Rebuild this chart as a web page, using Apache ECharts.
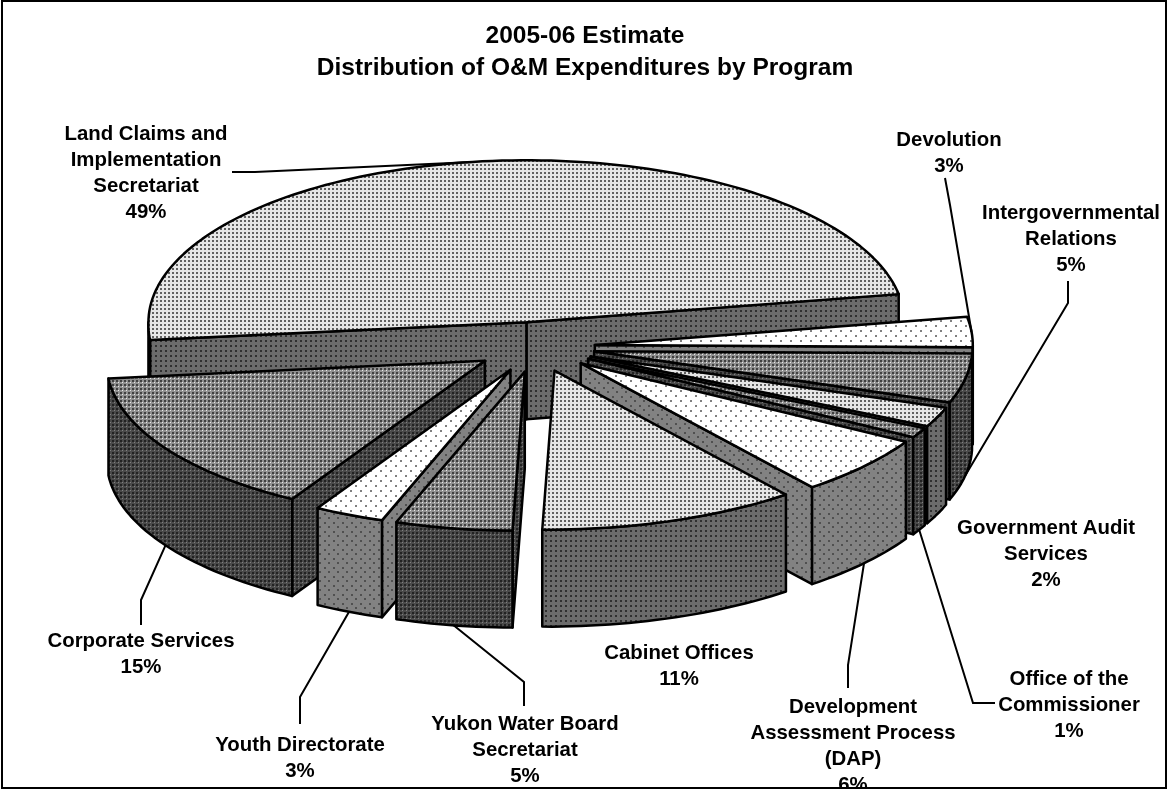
<!DOCTYPE html>
<html>
<head>
<meta charset="utf-8">
<style>html,body{margin:0;padding:0;background:#fff}#chart{width:1168px;height:789px}</style>
<script src="https://cdn.jsdelivr.net/npm/echarts@6/dist/echarts.min.js"></script>
</head>
<body>
<div id="chart"></div>
<script>
// Program names and their share of O&M spending, counter-clockwise from the right edge.
const programs = ['Land Claims and\nImplementation\nSecretariat', 'Corporate Services', 'Youth Directorate',
  'Yukon Water Board\nSecretariat', 'Cabinet Offices', 'Development\nAssessment Process\n(DAP)',
  'Office of the\nCommissioner', 'Government Audit\nServices', 'Intergovernmental\nRelations', 'Devolution'];
const shares = [49, 15, 3, 5, 11, 6, 1, 2, 5, 3];
const titleLines = ['2005-06 Estimate', 'Distribution of O&M Expenditures by Program'];

// Fill family per slice and the back-to-front order the slices are painted in.
const sliceFill = ['A', 'C', 'D', 'C', 'A', 'D', 'C', 'A', 'C', 'D'];
const paintOrder = [0, 9, 8, 7, 6, 5, 1, 2, 3, 4];

// Projection of the tilted disc; frontLean and frontLift bend the near rim left and up a little.
const disc = { cx: 535, cy: 347, rx: 378, ry: 162, depth: 97, explodeX: 60, explodeY: 25, start: 10, frontLean: 7, frontLift: 3 };

// Label centres and the free ends of the leader lines, running away from each slice.
const labelCentres = [[146, 134], [141, 641], [300, 745], [525, 724], [679, 653], [853, 707], [1069, 679], [1046, 528], [1071, 213], [949, 140]];
const leaderElbows = [[[255, 172], [232, 172]], [[141, 600], [141, 625]], [[300, 697], [300, 724]], [[524, 682], [524, 706]], null,
  [[848, 665], [848, 688]], [[973, 703], [995, 703]], null, [[1068, 303], [1068, 281]], [[950, 205], [945, 178]]];

// Pattern tiles: period, base tone, dot tone, dot size, optional fleck, staggered rows.
const tiles = {
  Atop:  { size: 4, base: '#e6e6e6', dot: '#606060', dotSize: 2 },
  Awall: { size: 5, base: '#6c6c6c', dot: '#303030', dotSize: 2 },
  Ctop:  { size: 4, base: '#909090', dot: '#404040', dotSize: 2, fleck: '#e8e8e8' },
  Cwall: { size: 4, base: '#4a4a4a', dot: '#222222', dotSize: 2, fleck: '#808080' },
  Dtop:  { size: 10, base: '#ffffff', dot: '#808080', dotSize: 2, stagger: true },
  Dwall: { size: 9, base: '#828282', dot: '#505050', dotSize: 2, stagger: true }
};

function makeTile(t) {
  const c = document.createElement('canvas');
  c.width = t.size; c.height = t.size;
  const g = c.getContext('2d');
  g.fillStyle = t.base; g.fillRect(0, 0, t.size, t.size);
  const put = (x, y) => { g.fillStyle = t.dot; g.fillRect(x, y, t.dotSize, t.dotSize); };
  put(0, 0);
  if (t.stagger) put(t.size >> 1, t.size >> 1);
  if (t.fleck) { g.fillStyle = t.fleck; g.fillRect(2, 2, 1, 1); }
  return { image: c, repeat: 'repeat' };
}
const patterns = {};
Object.keys(tiles).forEach(k => { patterns[k] = makeTile(tiles[k]); });

// Angular extent of each slice, derived from the shares.
const total = shares.reduce((a, b) => a + b, 0);
const spans = [];
shares.reduce((from, v) => {
  const to = from + v / total * 360;
  spans.push([from, to]);
  return to;
}, disc.start);

const rad = d => d * Math.PI / 180;
function apex(i) {
  const mid = rad((spans[i][0] + spans[i][1]) / 2);
  return [disc.cx + disc.explodeX * Math.cos(mid), disc.cy - disc.explodeY * Math.sin(mid)];
}
function rimPoint(i, deg, drop) {
  const a = apex(i);
  const s = Math.sin(rad(deg));
  const near = Math.max(0, -s);
  return [a[0] + disc.rx * Math.cos(rad(deg)) - disc.frontLean * near,
    a[1] - disc.ry * s - disc.frontLift * near + drop];
}
function arc(i, from, to, drop) {
  const pts = [];
  const n = Math.max(2, Math.ceil(Math.abs(to - from) / 1.5));
  for (let k = 0; k <= n; k++) pts.push(rimPoint(i, from + (to - from) * k / n, drop));
  return pts;
}
const edgeStyle = fill => ({ fill, stroke: '#000', lineWidth: 2.5, lineJoin: 'round' });

function renderSlice(params, api) {
  const i = api.value(0);
  const [from, to] = spans[i];
  const z2 = paintOrder.indexOf(i) * 10 + 1;
  const fam = sliceFill[i];
  const wall = edgeStyle(patterns[fam + 'wall']);
  const tip = apex(i);
  const tipLow = [tip[0], tip[1] + disc.depth];
  const children = [];
  const poly = (points, style, z) => children.push({ type: 'polygon', shape: { points }, style, z2: z });

  // Radial cut faces that turn towards the viewer.
  if (Math.cos(rad(from)) > 0) {
    poly([tip, rimPoint(i, from, 0), rimPoint(i, from, disc.depth), tipLow], wall, z2);
  }
  if (Math.cos(rad(to)) < 0) {
    poly([tip, rimPoint(i, to, 0), rimPoint(i, to, disc.depth), tipLow], wall, z2);
  }
  // Outer rim wall: only the near half of the disc shows it.
  const lo = Math.max(from, 180), hi = Math.min(to, 360);
  if (hi > lo) {
    poly(arc(i, lo, hi, 0).concat(arc(i, hi, lo, disc.depth)), wall, z2 + 1);
  }
  // Top face.
  poly([tip].concat(arc(i, from, to, 0)), edgeStyle(patterns[fam + 'top']), z2 + 2);
  return { type: 'group', children };
}

function renderLabel(params, api) {
  const i = api.value(0);
  const [x, y] = labelCentres[i];
  const children = [];
  const mid = (spans[i][0] + spans[i][1]) / 2;
  if (leaderElbows[i]) {
    const anchor = rimPoint(i, mid, Math.sin(rad(mid)) < 0 ? disc.depth : 0);
    children.push({
      type: 'polyline',
      shape: { points: [anchor].concat(leaderElbows[i]) },
      style: { fill: null, stroke: '#000', lineWidth: 2 },
      z2: 200
    });
  }
  children.push({
    type: 'text',
    x, y: y - 13,
    style: {
      text: programs[i] + '\n' + api.value(1) + '%',
      font: 'bold 20.4px "Liberation Sans", Arial, sans-serif',
      fill: '#000', align: 'center', verticalAlign: 'top', lineHeight: 26
    },
    z2: 201
  });
  return { type: 'group', children };
}

const chart = echarts.init(document.getElementById('chart'), null, { renderer: 'canvas' });
const rows = shares.map((v, i) => [i, v]);
chart.setOption({
  animation: false,
  backgroundColor: '#fff',
  title: {
    text: titleLines.join('\n'),
    left: 580, top: 15, textAlign: 'center',
    textStyle: { fontFamily: '"Liberation Sans", Arial, sans-serif', fontWeight: 'bold', fontSize: 24.5, lineHeight: 32, color: '#000' }
  },
  graphic: [{
    type: 'rect', z: 100, silent: true,
    shape: { x: 2, y: 1, width: 1164, height: 787 },
    style: { fill: null, stroke: '#000', lineWidth: 2 }
  }],
  series: [
    { type: 'custom', coordinateSystem: 'none', silent: true, clip: false, renderItem: renderSlice, data: rows, z: 2 },
    { type: 'custom', coordinateSystem: 'none', silent: true, clip: false, renderItem: renderLabel, data: rows, z: 3 }
  ]
});
</script>
</body>
</html>
